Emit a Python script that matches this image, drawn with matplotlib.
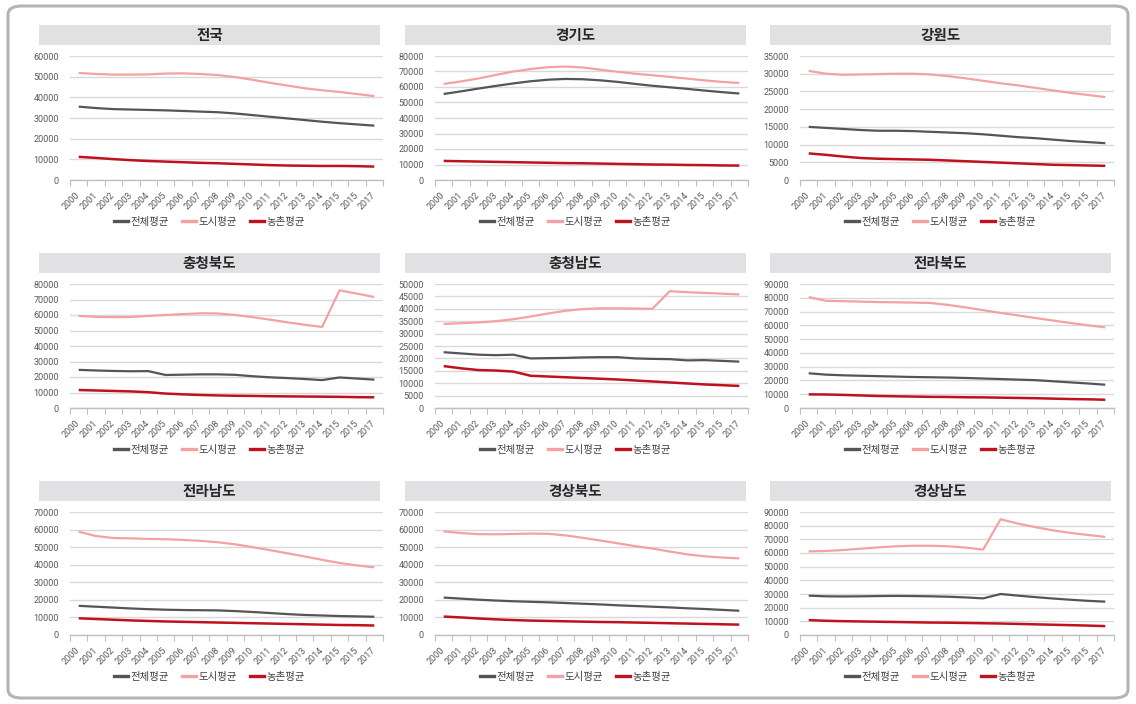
import numpy as np
import matplotlib
matplotlib.use("Agg")
import matplotlib.pyplot as plt
from matplotlib.patches import FancyBboxPatch, Rectangle
from matplotlib.lines import Line2D

plt.rcParams['font.family'] = ['Noto Sans CJK KR', 'DejaVu Sans']

years = ["2000", "2001", "2002", "2003", "2004", "2005", "2006", "2007", "2008",
         "2009", "2010", "2011", "2012", "2013", "2014", "2015", "2015", "2017"]
series_names = ["전체평균", "도시평균", "농촌평균"]
regions = ["전국", "경기도", "강원도", "충청북도", "충청남도", "전라북도", "전라남도", "경상북도", "경상남도"]

# 전국
nat_total = [35500, 34800, 34300, 34100, 33900, 33700, 33400, 33100, 32800, 32200, 31400, 30600, 29800, 29000, 28200, 27500, 26900, 26300]
nat_urban = [51800, 51300, 51000, 51000, 51100, 51500, 51600, 51300, 50800, 49800, 48500, 47000, 45700, 44400, 43400, 42600, 41600, 40600]
nat_rural = [11200, 10700, 10100, 9600, 9200, 8900, 8600, 8300, 8100, 7800, 7500, 7200, 7000, 6900, 6800, 6800, 6700, 6500]
# 경기도
gg_total = [55500, 57200, 59000, 60700, 62300, 63700, 64700, 65200, 65000, 64300, 63300, 62000, 60800, 59800, 58800, 57700, 56700, 55800]
gg_urban = [62000, 63600, 65500, 67800, 70000, 71600, 72800, 73200, 72600, 71200, 69800, 68600, 67600, 66500, 65400, 64300, 63300, 62600]
gg_rural = [12300, 12100, 11900, 11700, 11500, 11300, 11100, 10900, 10800, 10600, 10400, 10200, 10000, 9900, 9700, 9600, 9400, 9300]
# 강원도
gw_total = [15000, 14700, 14400, 14100, 13900, 13900, 13800, 13600, 13400, 13200, 12900, 12500, 12100, 11800, 11400, 11000, 10700, 10400]
gw_urban = [30800, 30000, 29700, 29800, 29900, 30000, 30000, 29800, 29300, 28700, 28000, 27300, 26700, 26000, 25300, 24600, 24000, 23400]
gw_rural = [7500, 7100, 6600, 6200, 6000, 5900, 5800, 5700, 5500, 5300, 5100, 4900, 4700, 4500, 4300, 4200, 4100, 4000]
# 충청북도
cb_total = [24600, 24200, 23900, 23700, 23800, 21300, 21500, 21700, 21700, 21400, 20500, 19800, 19300, 18700, 18000, 19700, 19000, 18300]
cb_urban = [59400, 58800, 58600, 58700, 59400, 60000, 60600, 61100, 61000, 60000, 58600, 57000, 55300, 53700, 52300, 75900, 73800, 71600]
cb_rural = [11600, 11300, 11000, 10700, 10200, 9300, 8800, 8400, 8100, 7900, 7800, 7600, 7500, 7400, 7300, 7200, 7000, 6900]
# 충청남도
cn_total = [22500, 22000, 21500, 21300, 21500, 20000, 20100, 20200, 20400, 20500, 20500, 20000, 19800, 19700, 19200, 19300, 19000, 18700]
cn_urban = [33900, 34200, 34500, 35000, 35800, 36900, 38100, 39200, 39900, 40200, 40200, 40100, 40000, 47100, 46700, 46400, 46100, 45800]
cn_rural = [16900, 16000, 15300, 15100, 14700, 13000, 12700, 12400, 12100, 11800, 11500, 11100, 10700, 10300, 9900, 9500, 9200, 8900]
# 전라북도
jb_total = [25200, 24200, 23700, 23400, 23100, 22800, 22500, 22300, 22100, 21800, 21400, 21000, 20600, 20200, 19400, 18600, 17800, 16900]
jb_urban = [80500, 77800, 77500, 77200, 76900, 76700, 76500, 76200, 74800, 73000, 71000, 69000, 67200, 65300, 63500, 61700, 60000, 58500]
jb_rural = [9900, 9800, 9500, 9100, 8700, 8500, 8300, 8100, 8000, 7800, 7700, 7500, 7300, 7100, 6800, 6500, 6300, 6000]
# 전라남도
jn_total = [16600, 16100, 15600, 15100, 14700, 14400, 14200, 14100, 14000, 13600, 13100, 12500, 11900, 11400, 11100, 10800, 10600, 10400]
jn_urban = [58800, 56300, 55200, 55000, 54700, 54500, 54100, 53600, 52800, 51600, 50000, 48300, 46500, 44700, 42800, 41000, 39600, 38500]
jn_rural = [9500, 9100, 8700, 8300, 8000, 7700, 7500, 7300, 7100, 6900, 6700, 6500, 6300, 6100, 5900, 5700, 5600, 5400]
# 경상북도
gb_total = [21300, 20700, 20100, 19600, 19200, 18900, 18600, 18200, 17800, 17400, 16900, 16500, 16100, 15700, 15200, 14800, 14300, 13800]
gb_urban = [59000, 58000, 57400, 57300, 57500, 57700, 57600, 56700, 55300, 53800, 52200, 50600, 49200, 47500, 45900, 44800, 44100, 43600]
gb_rural = [10500, 10000, 9400, 8900, 8500, 8200, 8000, 7800, 7600, 7400, 7300, 7100, 6900, 6700, 6500, 6300, 6100, 5900]
# 경상남도
gn_total = [28800, 28300, 28200, 28300, 28500, 28600, 28500, 28300, 28000, 27500, 26800, 30000, 28800, 27700, 26700, 25800, 25000, 24400]
gn_urban = [61200, 61500, 62200, 63200, 64100, 64900, 65300, 65300, 64900, 64000, 62500, 84700, 81500, 78900, 76600, 74700, 73200, 71800]
gn_rural = [10900, 10400, 10100, 9900, 9700, 9500, 9300, 9100, 9000, 8800, 8600, 8400, 8100, 7800, 7500, 7200, 6900, 6500]

region_data = [
    (nat_total, nat_urban, nat_rural),
    (gg_total, gg_urban, gg_rural),
    (gw_total, gw_urban, gw_rural),
    (cb_total, cb_urban, cb_rural),
    (cn_total, cn_urban, cn_rural),
    (jb_total, jb_urban, jb_rural),
    (jn_total, jn_urban, jn_rural),
    (gb_total, gb_urban, gb_rural),
    (gn_total, gn_urban, gn_rural),
]
y_max = [60000, 80000, 35000, 80000, 50000, 90000, 70000, 70000, 90000]
y_step = [10000, 10000, 5000, 10000, 5000, 10000, 10000, 10000, 10000]

line_colors = ["#555555", "#f6a1a1", "#c0111f"]
line_widths = [1.6, 1.6, 1.8]

W, H = 1136, 704
fig = plt.figure(figsize=(W / 100, H / 100), dpi=100)
fig.patch.set_facecolor("white")

# outer rounded frame
frame = FancyBboxPatch((8 / W, 6 / H), 1120 / W, 692 / H,
                       boxstyle="round,pad=0,rounding_size=0.012",
                       transform=fig.transFigure, facecolor="none",
                       edgecolor="#b4b4b4", linewidth=2.2, zorder=0)
fig.patches.append(frame)

col_axes = [(70, 383), (435, 748), (800, 1114)]
col_title = [(39, 380), (405, 746), (770, 1111)]
row_axes = [(56, 180), (284, 408), (512, 635)]
row_title = [(25, 45), (253, 273), (481, 501)]

tick_color = "#595959"

for k, name in enumerate(regions):
    r, c = divmod(k, 3)
    x0, x1 = col_axes[c]
    yt, yb = row_axes[r]
    tx0, tx1 = col_title[c]
    tt, tb = row_title[r]

    # title band
    fig.patches.append(Rectangle((tx0 / W, 1 - tb / H), (tx1 - tx0) / W, (tb - tt) / H,
                                 transform=fig.transFigure, facecolor="#e1e1e3",
                                 edgecolor="none", zorder=0))
    fig.text((tx0 + tx1) / 2 / W, 1 - (tt + tb) / 2 / H, name, ha="center", va="center",
             fontsize=10.5, fontweight="bold", color="#262626")

    ax = fig.add_axes([x0 / W, 1 - yb / H, (x1 - x0) / W, (yb - yt) / H])
    ax.set_facecolor("none")
    xs_idx = np.arange(len(years))
    for vals, col, lw in zip(region_data[k], line_colors, line_widths):
        ax.plot(xs_idx, vals, color=col, lw=lw, solid_joinstyle="round",
                solid_capstyle="butt", zorder=3)

    ax.set_xlim(-0.5, len(years) - 0.5)
    ax.set_ylim(0, y_max[k])
    yt_vals = np.arange(0, y_max[k] + 1, y_step[k])
    ax.set_yticks(yt_vals)
    ax.set_yticklabels([str(v) for v in yt_vals],
                       fontsize=6.5, color=tick_color, family="Roboto")
    ax.tick_params(axis="y", length=0, pad=8)
    ax.grid(axis="y", color="#d9d9d9", lw=1.0, zorder=0)
    ax.set_axisbelow(True)

    ax.set_xticks(xs_idx)
    ax.set_xticklabels(years, rotation=45, ha="right", va="center",
                       rotation_mode="anchor", fontsize=6.5, color=tick_color,
                       family="Roboto")
    ax.tick_params(axis="x", which="major", length=0, pad=10)
    ax.set_xticks(np.arange(-0.5, len(years), 1.0), minor=True)
    ax.tick_params(axis="x", which="minor", length=4, color="#bfbfbf", width=0.8)

    for s in ["top", "right", "left"]:
        ax.spines[s].set_visible(False)
    ax.spines["bottom"].set_color("#bfbfbf")
    ax.spines["bottom"].set_linewidth(1.0)

    handles = [Line2D([], [], color=col, lw=2.4) for col in line_colors]
    fig.legend(handles, series_names, loc="center",
               bbox_to_anchor=((tx0 + tx1) / 2 / W, 1 - (yb + 42) / H),
               ncol=3, frameon=False, fontsize=7.5, handlelength=1.35,
               handletextpad=0.25, columnspacing=1.25, labelcolor="#404040")

fig.savefig("out.png", dpi=100, facecolor="white")
